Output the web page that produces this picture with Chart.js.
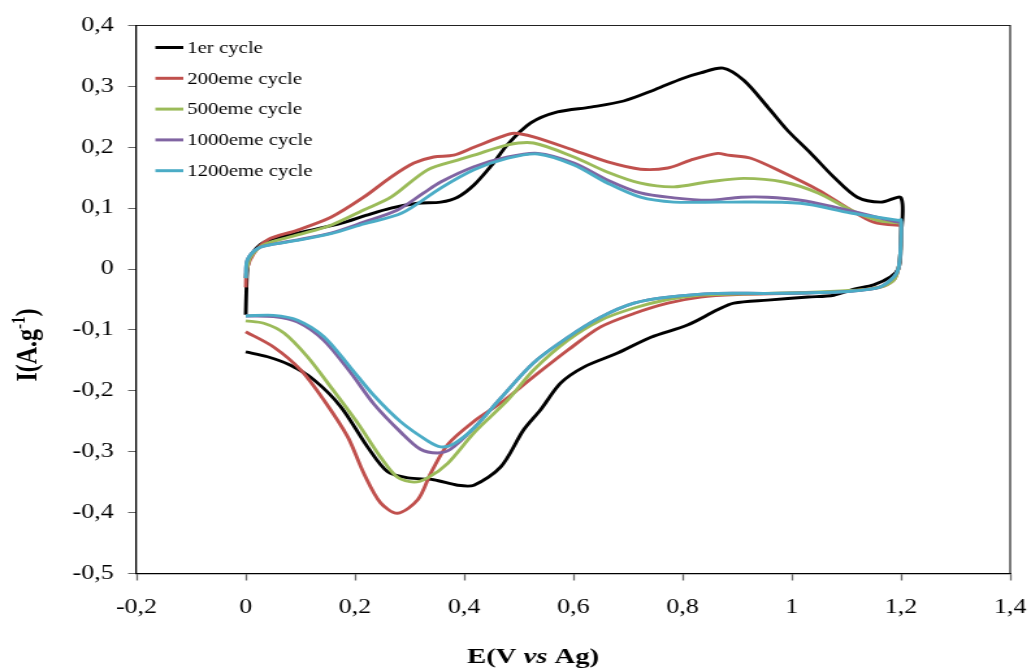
<!DOCTYPE html>
<html><head><meta charset="utf-8">
<script src="https://cdn.jsdelivr.net/npm/chart.js@4/dist/chart.umd.min.js"></script>
<style>
html,body{margin:0;padding:0;background:#fff;overflow:hidden}
#wrap{width:793px;height:670px;transform:scaleX(1.3001);transform-origin:0 0}
</style></head><body>
<div id="wrap"><canvas id="c" width="793" height="670"></canvas></div>
<script>
// ---- data ----
const seriesNames = ['1er cycle','200eme cycle','500eme cycle','1000eme cycle','1200eme cycle'];
const seriesColors = ['#000000','#C0504D','#9BBB59','#8064A2','#4BACC6'];
const xTicks = [-0.2,0,0.2,0.4,0.6,0.8,1,1.2,1.4];
const yTicks = [-0.5,-0.4,-0.3,-0.2,-0.1,0,0.1,0.2,0.3,0.4];

const E_1er = [0,0.001,0.003,0.008,0.02,0.035,0.07,0.12,0.174,0.22,0.266,0.315,0.357,0.388,0.418,0.45,0.48,0.522,0.571,0.632,0.692,0.75,0.8,0.833,0.874,0.912,0.956,0.992,1.035,1.077,1.12,1.163,1.2,1.2,1.199,1.195,1.181,1.15,1.114,1.077,1.03,0.956,0.894,0.864,0.809,0.742,0.681,0.619,0.577,0.54,0.509,0.467,0.418,0.388,0.344,0.297,0.26,0.223,0.174,0.125,0.082,0.04,0];
const I_1er = [-0.075,-0.04,0,0.02,0.035,0.045,0.054,0.064,0.075,0.088,0.1,0.108,0.11,0.118,0.138,0.17,0.205,0.24,0.258,0.266,0.276,0.295,0.313,0.322,0.33,0.31,0.266,0.228,0.19,0.151,0.118,0.11,0.117,0.05,0.02,0,-0.013,-0.026,-0.033,-0.043,-0.046,-0.051,-0.056,-0.067,-0.092,-0.112,-0.138,-0.161,-0.187,-0.231,-0.264,-0.325,-0.355,-0.355,-0.346,-0.343,-0.333,-0.292,-0.226,-0.182,-0.158,-0.144,-0.136];

const E_200 = [0,0.002,0.015,0.04,0.095,0.156,0.216,0.266,0.308,0.344,0.381,0.418,0.467,0.491,0.527,0.601,0.663,0.723,0.773,0.815,0.864,0.883,0.925,0.985,1.048,1.108,1.15,1.196,1.2,1.199,1.195,1.187,1.168,1.139,1.09,1.0,0.9,0.833,0.773,0.711,0.65,0.59,0.527,0.467,0.418,0.37,0.339,0.315,0.278,0.247,0.216,0.187,0.143,0.101,0.051,0];
const I_200 = [-0.03,0,0.026,0.048,0.064,0.085,0.118,0.151,0.174,0.184,0.187,0.2,0.217,0.223,0.217,0.195,0.176,0.164,0.166,0.179,0.19,0.187,0.182,0.158,0.13,0.097,0.077,0.072,0.074,0.03,0.0,-0.018,-0.028,-0.033,-0.037,-0.04,-0.042,-0.046,-0.056,-0.073,-0.095,-0.133,-0.177,-0.22,-0.25,-0.288,-0.335,-0.379,-0.401,-0.384,-0.335,-0.276,-0.215,-0.166,-0.128,-0.103];

const E_500 = [0,0.002,0.009,0.033,0.095,0.156,0.216,0.266,0.333,0.388,0.418,0.48,0.527,0.601,0.663,0.723,0.784,0.846,0.912,0.985,1.048,1.108,1.157,1.196,1.2,1.199,1.195,1.187,1.168,1.139,1.09,1.0,0.9,0.83,0.773,0.711,0.65,0.59,0.527,0.48,0.418,0.37,0.333,0.308,0.278,0.247,0.205,0.156,0.113,0.07,0.033,0];
const I_500 = [-0.015,0.0,0.02,0.04,0.056,0.072,0.097,0.118,0.163,0.179,0.187,0.204,0.207,0.184,0.159,0.141,0.135,0.143,0.149,0.143,0.125,0.097,0.08,0.076,0.077,0.03,0,-0.018,-0.028,-0.033,-0.036,-0.039,-0.041,-0.043,-0.05,-0.064,-0.084,-0.117,-0.166,-0.215,-0.269,-0.319,-0.343,-0.35,-0.342,-0.309,-0.253,-0.194,-0.144,-0.105,-0.089,-0.085];

const E_1000 = [0,0.003,0.022,0.046,0.095,0.156,0.216,0.278,0.326,0.357,0.418,0.48,0.535,0.601,0.663,0.723,0.784,0.846,0.907,0.956,1.016,1.077,1.139,1.196,1.2,1.199,1.195,1.187,1.163,1.126,1.077,0.956,0.864,0.773,0.711,0.65,0.59,0.527,0.467,0.418,0.375,0.351,0.32,0.284,0.235,0.192,0.143,0.095,0.051,0];
const I_1000 = [-0.015,0.015,0.034,0.04,0.048,0.059,0.077,0.097,0.125,0.143,0.168,0.184,0.19,0.174,0.146,0.125,0.117,0.113,0.118,0.118,0.113,0.102,0.089,0.077,0.078,0.03,0.0,-0.013,-0.029,-0.035,-0.038,-0.04,-0.04,-0.046,-0.056,-0.079,-0.112,-0.154,-0.212,-0.261,-0.296,-0.302,-0.296,-0.268,-0.222,-0.17,-0.117,-0.087,-0.078,-0.077];

const E_1200 = [0,0.003,0.022,0.046,0.095,0.156,0.216,0.286,0.357,0.418,0.48,0.535,0.601,0.663,0.723,0.784,0.875,1.016,1.108,1.196,1.2,1.199,1.195,1.187,1.163,1.126,1.077,0.956,0.864,0.773,0.711,0.65,0.59,0.527,0.467,0.418,0.381,0.357,0.333,0.284,0.235,0.192,0.143,0.095,0.051,0];
const I_1200 = [-0.015,0.015,0.034,0.04,0.047,0.058,0.074,0.092,0.133,0.163,0.182,0.189,0.171,0.141,0.118,0.11,0.11,0.108,0.092,0.08,0.081,0.03,0,-0.013,-0.029,-0.035,-0.038,-0.04,-0.04,-0.046,-0.056,-0.079,-0.112,-0.154,-0.212,-0.261,-0.287,-0.292,-0.282,-0.251,-0.208,-0.162,-0.111,-0.084,-0.076,-0.077];

const seriesE = [E_1er,E_200,E_500,E_1000,E_1200];
const seriesI = [I_1er,I_200,I_500,I_1000,I_1200];

// ---- helpers ----
const FONT = "'Liberation Serif','Times New Roman',serif";
function fmt(v){ let s = (Math.round(v*10)/10).toString(); if (s === '-0') s = '0'; return s.replace('.', ','); }
function zip(E, I){ const n = Math.min(E.length, I.length); const out = []; for (let i=0;i<n;i++) out.push({x:E[i], y:I[i]}); return out; }

const datasets = seriesNames.map((name, i) => ({
  label: name,
  data: zip(seriesE[i], seriesI[i]),
  borderColor: seriesColors[i],
  backgroundColor: seriesColors[i],
  borderWidth: 2.9,
  pointRadius: 0,
  showLine: true,
  tension: 0.3,
  fill: false,
  order: seriesNames.length - i
}));

const framePlugin = {
  id: 'frame',
  afterDraw(chart){
    const {ctx, chartArea:a} = chart;
    ctx.save();
    ctx.strokeStyle = '#222';
    ctx.lineWidth = 1.2;
    ctx.beginPath();
    ctx.moveTo(a.left, a.top); ctx.lineTo(a.right, a.top); ctx.lineTo(a.right, a.bottom);
    ctx.stroke();
    ctx.restore();
  }
};

const legendPlugin = {
  id: 'innerLegend',
  afterDraw(chart){
    const ctx = chart.ctx;
    ctx.save();
    ctx.font = "16px " + FONT;
    ctx.textBaseline = 'middle';
    ctx.textAlign = 'left';
    chart.data.datasets.forEach((ds, i) => {
      const y = 47.5 + i * 30.8;
      ctx.strokeStyle = ds.borderColor;
      ctx.lineWidth = 3;
      ctx.beginPath(); ctx.moveTo(119.5, y); ctx.lineTo(141, y); ctx.stroke();
      ctx.fillStyle = '#000';
      ctx.fillText(ds.label, 144, y + 1);
    });
    ctx.restore();
  }
};

const titlePlugin = {
  id: 'axisTitles',
  afterDraw(chart){
    const ctx = chart.ctx;
    ctx.save();
    ctx.fillStyle = '#000';
    ctx.textBaseline = 'alphabetic';
    // x title: E(V vs Ag)
    const parts = [["E(V ", "bold 22px " + FONT], ["vs", "italic bold 22px " + FONT], [" Ag)", "bold 22px " + FONT]];
    let w = 0; parts.forEach(p => { ctx.font = p[1]; w += ctx.measureText(p[0]).width; });
    let x = 410 - w / 2;
    parts.forEach(p => { ctx.font = p[1]; ctx.fillText(p[0], x, 663); x += ctx.measureText(p[0]).width; });
    // y title: I(A.g-1)
    ctx.translate(21, 345);
    ctx.rotate(-Math.PI / 2);
    const yp = [["I(A.g", "bold 24px " + FONT, 0], ["-1", "bold 15px " + FONT, -9], [")", "bold 24px " + FONT, 0]];
    w = 0; yp.forEach(p => { ctx.font = p[1]; w += ctx.measureText(p[0]).width; });
    x = -w / 2;
    yp.forEach(p => { ctx.font = p[1]; ctx.fillText(p[0], x, 7 + p[2]); x += ctx.measureText(p[0]).width; });
    ctx.restore();
  }
};

new Chart(document.getElementById('c'), {
  type: 'scatter',
  data: { datasets },
  options: {
    responsive: false,
    animation: false,
    devicePixelRatio: 1,
    layout: { padding: { left: 0, top: 25.5, right: 16, bottom: 0 } },
    plugins: { legend: { display: false }, tooltip: { enabled: false } },
    scales: {
      x: {
        type: 'linear', min: -0.2, max: 1.4,
        afterBuildTicks: s => { s.ticks = xTicks.map(v => ({value: v})); },
        afterFit: s => { s.height = 96.5; s.paddingLeft = 0; s.paddingRight = 0; },
        ticks: { callback: v => fmt(v), font: { family: FONT, size: 20 }, color: '#000', padding: 15, maxRotation: 0, autoSkip: false },
        grid: { drawOnChartArea: false, drawTicks: true, tickLength: 7, color: '#666', tickWidth: 1.3 },
        border: { display: true, color: '#000', width: 1.3 }
      },
      y: {
        type: 'linear', min: -0.5, max: 0.4,
        afterBuildTicks: s => { s.ticks = yTicks.map(v => ({value: v})); },
        afterFit: s => { s.width = 105; s.paddingTop = 0; s.paddingBottom = 0; },
        ticks: { callback: v => fmt(v), font: { family: FONT, size: 20 }, color: '#000', padding: 11, autoSkip: false },
        grid: { drawOnChartArea: false, drawTicks: true, tickLength: 6.5, color: '#666', tickWidth: 1 },
        border: { display: true, color: '#000', width: 1.3 }
      }
    }
  },
  plugins: [framePlugin, legendPlugin, titlePlugin]
});
</script>
</body></html>
